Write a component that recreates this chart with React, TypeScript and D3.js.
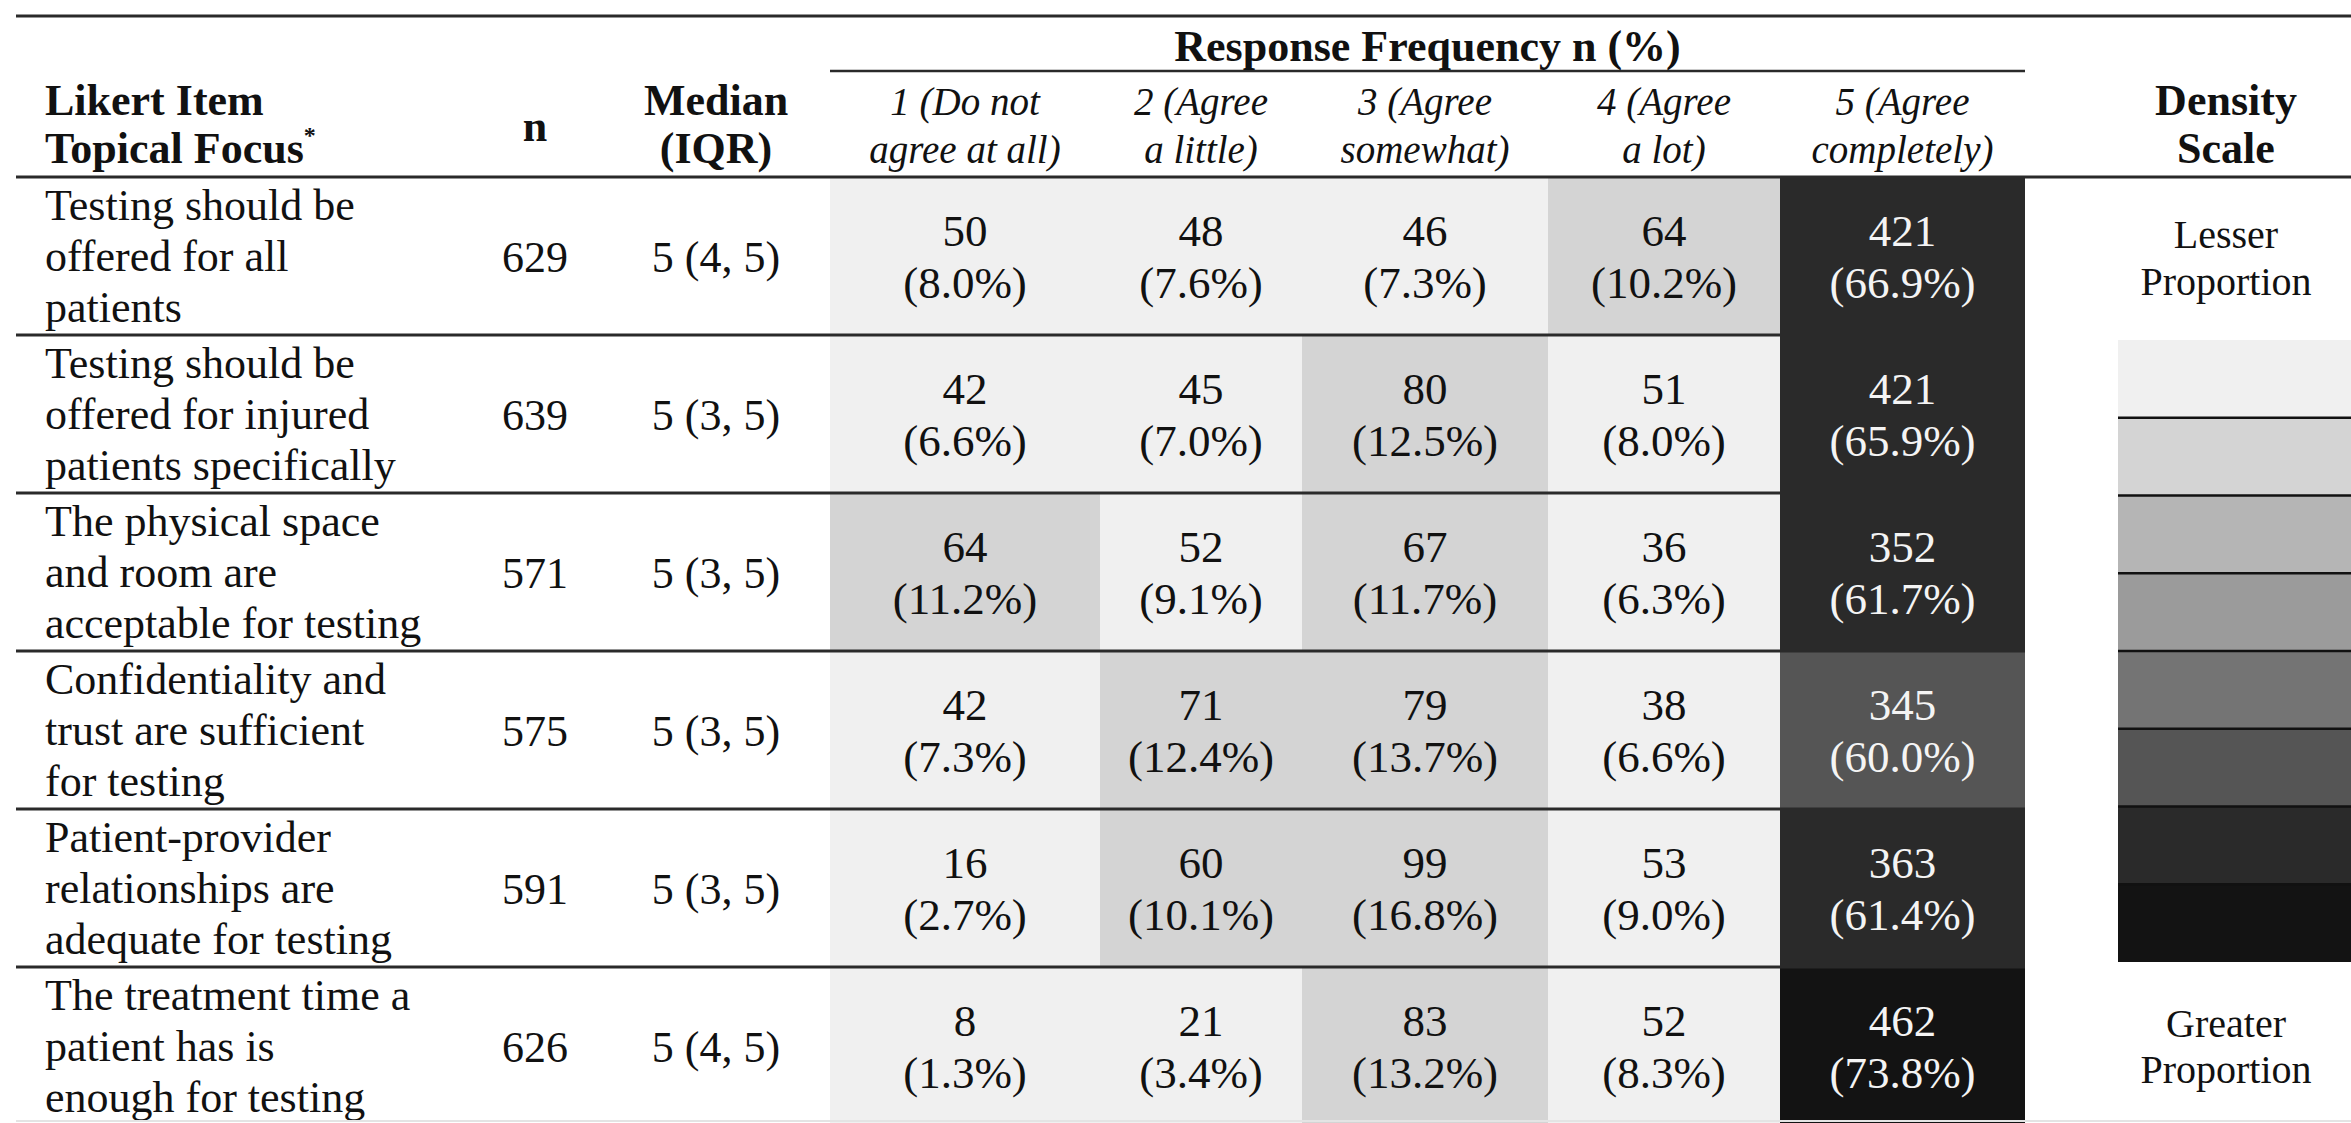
import * as d3 from 'd3';
import { useLayoutEffect, useRef } from 'react';

// table content
const items = [
  ['Testing should be', 'offered for all', 'patients'],
  ['Testing should be', 'offered for injured', 'patients specifically'],
  ['The physical space', 'and room are', 'acceptable for testing'],
  ['Confidentiality and', 'trust are sufficient', 'for testing'],
  ['Patient-provider', 'relationships are', 'adequate for testing'],
  ['The treatment time a', 'patient has is', 'enough for testing'],
];
const nValues = [629, 639, 571, 575, 591, 626];
const medians = ['5 (4, 5)', '5 (3, 5)', '5 (3, 5)', '5 (3, 5)', '5 (3, 5)', '5 (4, 5)'];
const responseLabels = [
  ['1 (Do not', 'agree at all)'],
  ['2 (Agree', 'a little)'],
  ['3 (Agree', 'somewhat)'],
  ['4 (Agree', 'a lot)'],
  ['5 (Agree', 'completely)'],
];
const counts = [
  [50, 48, 46, 64, 421],
  [42, 45, 80, 51, 421],
  [64, 52, 67, 36, 352],
  [42, 71, 79, 38, 345],
  [16, 60, 99, 53, 363],
  [8, 21, 83, 52, 462],
];
const percents = [
  [8.0, 7.6, 7.3, 10.2, 66.9],
  [6.6, 7.0, 12.5, 8.0, 65.9],
  [11.2, 9.1, 11.7, 6.3, 61.7],
  [7.3, 12.4, 13.7, 6.6, 60.0],
  [2.7, 10.1, 16.8, 9.0, 61.4],
  [1.3, 3.4, 13.2, 8.3, 73.8],
];
const densityColors = ['#f0f0f0', '#d4d4d4', '#b5b5b5', '#9b9b9b', '#747474', '#555555', '#2a2a2a', '#131313'];
const densityThresholds = [10, 20, 30, 40, 50, 60, 70];

const W = 2351;
const H = 1123;
const FONT = '"Liberation Serif", "Times New Roman", serif';

export default function App() {
  const ref = useRef<SVGSVGElement>(null);

  useLayoutEffect(() => {
    if (!ref.current) return;
    const svg = d3.select(ref.current);
    svg.selectAll('*').remove();

    // layout
    const left = 16;
    const tableRight = 2025;
    const colEdges = [830, 1100, 1302, 1548, 1780, 2025];
    const labelX = 45;
    const nX = 535;
    const medX = 716;
    const legendX = 2118;
    const legendCx = 2226;
    const headerBottom = 177;

    const y = d3
      .scaleBand<number>()
      .domain(d3.range(items.length))
      .range([headerBottom, headerBottom + 158 * items.length]);

    const colX = (j: number) => colEdges[j];
    const colW = (j: number) => colEdges[j + 1] - colEdges[j];

    // values are binned with inclusive upper bound (60.0% falls in the 50-60 band)
    const color = d3.scaleThreshold<number, string>().domain(densityThresholds).range(densityColors);
    const fill = (p: number) => color(p - 1e-6);
    const bandIdx = (p: number) => densityColors.indexOf(fill(p));

    svg.append('rect').attr('width', W).attr('height', H).attr('fill', '#fff');

    const g = svg.append('g').attr('font-family', FONT).attr('fill', '#111');

    // heat cells
    const cells = items.flatMap((_, i) =>
      counts[i].map((c, j) => ({ i, j, c, p: percents[i][j] })),
    );
    g.selectAll('rect.cell')
      .data(cells)
      .join('rect')
      .attr('class', 'cell')
      .attr('x', (d) => colX(d.j))
      .attr('y', (d) => y(d.i)!)
      .attr('width', (d) => colW(d.j))
      .attr('height', y.bandwidth())
      .attr('fill', (d) => fill(d.p));

    const cellText = g
      .selectAll('text.cell')
      .data(cells)
      .join('text')
      .attr('class', 'cell')
      .attr('text-anchor', 'middle')
      .attr('font-size', 45)
      .attr('fill', (d) => (bandIdx(d.p) >= 4 ? '#f4f4f4' : '#111'));
    cellText
      .append('tspan')
      .attr('x', (d) => colX(d.j) + colW(d.j) / 2)
      .attr('y', (d) => y(d.i)! + 69)
      .text((d) => d.c);
    cellText
      .append('tspan')
      .attr('x', (d) => colX(d.j) + colW(d.j) / 2)
      .attr('y', (d) => y(d.i)! + 121)
      .text((d) => `(${d.p.toFixed(1)}%)`);

    // row labels, n, median
    items.forEach((lines, i) => {
      lines.forEach((line, k) => {
        g.append('text')
          .attr('x', labelX)
          .attr('y', y(i)! + 43 + k * 51)
          .attr('font-size', 44)
          .text(line);
      });
      g.append('text')
        .attr('x', nX)
        .attr('y', y(i)! + 95)
        .attr('text-anchor', 'middle')
        .attr('font-size', 44)
        .text(nValues[i]);
      g.append('text')
        .attr('x', medX)
        .attr('y', y(i)! + 95)
        .attr('text-anchor', 'middle')
        .attr('font-size', 44)
        .text(medians[i]);
    });

    // rules
    const rule = (x1: number, x2: number, yy: number, w = 3, c = '#2a2a2a') =>
      g.append('line').attr('x1', x1).attr('x2', x2).attr('y1', yy).attr('y2', yy).attr('stroke', c).attr('stroke-width', w);
    rule(left, W, 16);
    rule(left, W, headerBottom);
    rule(colEdges[0], tableRight, 71, 2.5);
    d3.range(1, items.length).forEach((i) => rule(left, tableRight, y(i)!, 3));
    rule(left, W, H - 2, 2, '#e4e4e4');

    // header
    const bold = (t: string, x: number, yy: number) =>
      g.append('text').attr('x', x).attr('y', yy).attr('font-size', 44).attr('font-weight', 'bold').attr('text-anchor', 'middle').text(t);
    g.append('text').attr('x', labelX).attr('y', 115).attr('font-size', 44).attr('font-weight', 'bold').text('Likert Item');
    const tf = g.append('text').attr('x', labelX).attr('y', 163).attr('font-size', 44).attr('font-weight', 'bold').text('Topical Focus');
    tf.append('tspan').attr('font-size', 24).attr('dy', -20).text('*');
    bold('n', nX, 141);
    bold('Median', medX, 115);
    bold('(IQR)', medX, 163);
    bold('Response Frequency n (%)', (colEdges[0] + tableRight) / 2, 61);
    bold('Density', legendCx, 115);
    bold('Scale', legendCx, 163);

    responseLabels.forEach((lines, j) => {
      lines.forEach((line, k) => {
        g.append('text')
          .attr('x', colX(j) + colW(j) / 2)
          .attr('y', 115 + k * 48)
          .attr('text-anchor', 'middle')
          .attr('font-size', 39)
          .attr('font-style', 'italic')
          .text(line);
      });
    });

    // density legend
    const ly = d3.scaleBand<number>().domain(d3.range(densityColors.length)).range([340, 962]);
    g.selectAll('rect.legend')
      .data(densityColors)
      .join('rect')
      .attr('class', 'legend')
      .attr('x', legendX)
      .attr('y', (_, k) => ly(k)!)
      .attr('width', W - legendX)
      .attr('height', ly.bandwidth())
      .attr('fill', (d) => d);
    d3.range(1, densityColors.length).forEach((k) => rule(legendX, W, ly(k)!, 2.5, '#111'));

    const small = (t: string, yy: number) =>
      g.append('text').attr('x', legendCx).attr('y', yy).attr('font-size', 40).attr('text-anchor', 'middle').text(t);
    small('Lesser', 248);
    small('Proportion', 295);
    small('Greater', 1037);
    small('Proportion', 1083);
  }, []);

  return (
    <svg
      ref={ref}
      width={W}
      height={H}
      style={{ position: 'absolute', left: 0, top: 0, display: 'block' }}
    />
  );
}
